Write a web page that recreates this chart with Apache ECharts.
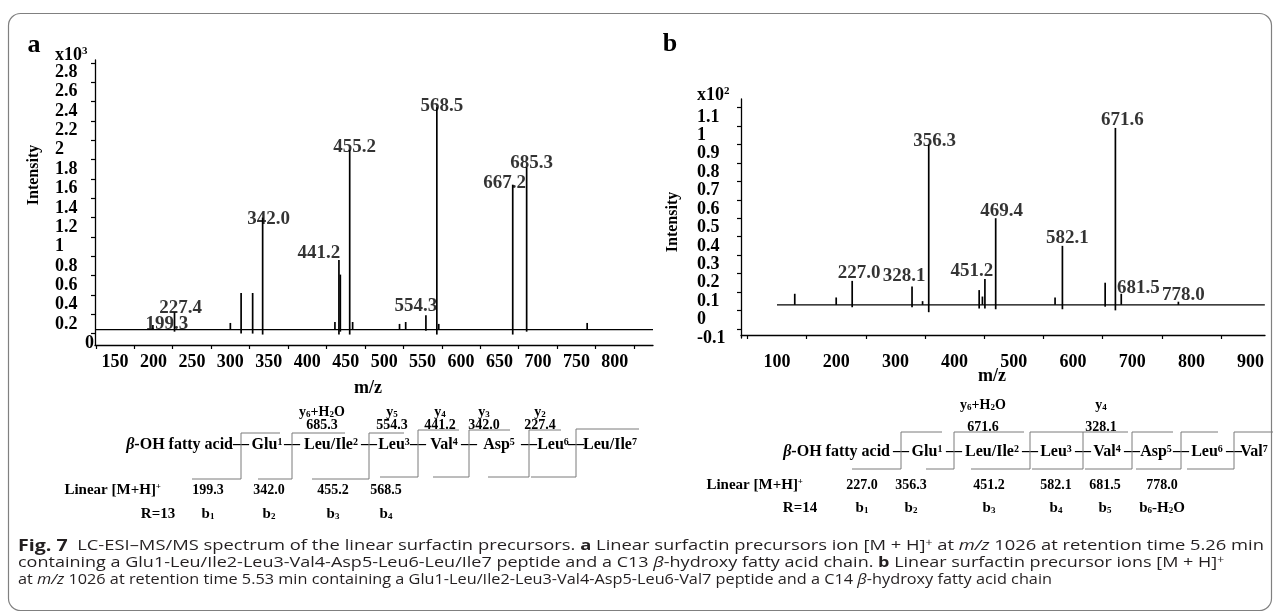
<!DOCTYPE html>
<html><head><meta charset="utf-8">
<script src="https://cdn.jsdelivr.net/npm/echarts@6/dist/echarts.min.js"></script>
<style>html,body{margin:0;padding:0;background:#fff}#c{width:1279px;height:615px}</style>
</head><body><div id="c"></div>
<script>
// ---------------- Panel a data (intensity in x10^3) ----------------
const aPeakMz   = [199.3, 227.4, 300, 314, 329, 342.0, 436, 441.2, 443, 455.2, 459, 520, 528, 554.3, 568.5, 571, 667.2, 685.3, 764];
const aPeakInt  = [0.19, 0.32, 0.21, 0.52, 0.52, 1.30, 0.22, 0.86, 0.71, 2.00, 0.22, 0.20, 0.22, 0.29, 2.44, 0.20, 1.64, 1.82, 0.21];
const aPeakFoot = [0.14, 0.12, 0.14, 0.10, 0.10, 0.09, 0.14, 0.09, 0.12, 0.09, 0.14, 0.14, 0.14, 0.13, 0.09, 0.14, 0.09, 0.12, 0.14];
const aLabelMz  = [199.3, 227.4, 342.0, 441.2, 455.2, 554.3, 568.5, 667.2, 685.3];
const aBaseline = [[124, 0.14], [849.6, 0.14]];
const aXLabels  = [150, 200, 250, 300, 350, 400, 450, 500, 550, 600, 650, 700, 750, 800];
const aXTicks   = [125, 175, 225, 275, 325, 375, 425, 475, 525, 575, 625, 675, 725, 775, 825];
const aYLabels  = [0, 0.2, 0.4, 0.6, 0.8, 1, 1.2, 1.4, 1.6, 1.8, 2, 2.2, 2.4, 2.6, 2.8];
const aYTicks   = [0.1, 0.3, 0.5, 0.7, 0.9, 1.1, 1.3, 1.5, 1.7, 1.9, 2.1, 2.3, 2.5, 2.7, 2.9];

// ---------------- Panel b data (intensity in x10^2) ----------------
const bPeakMz   = [130, 200, 227.0, 328.1, 345.9, 356.3, 441.5, 447, 451.2, 469.4, 569.7, 582.1, 654.3, 671.6, 681.5, 778.0];
const bPeakInt  = [0.14, 0.12, 0.21, 0.18, 0.10, 0.95, 0.16, 0.125, 0.22, 0.55, 0.12, 0.40, 0.20, 1.04, 0.14, 0.097];
const bPeakFoot = [0.08, 0.08, 0.067, 0.067, 0.08, 0.04, 0.06, 0.08, 0.06, 0.056, 0.08, 0.056, 0.07, 0.05, 0.08, 0.08];
const bLabelMz  = [227.0, 328.1, 356.3, 451.2, 469.4, 582.1, 671.6, 681.5, 778.0];
const bBaseline = [[100, 0.08], [924, 0.08]];
const bXLabels  = [100, 200, 300, 400, 500, 600, 700, 800, 900];
const bXTicks   = [50, 150, 250, 350, 450, 550, 650, 750, 850];
const bYLabels  = [-0.1, 0, 0.1, 0.2, 0.3, 0.4, 0.5, 0.6, 0.7, 0.8, 0.9, 1, 1.1];
const bYTicks   = [-0.05, 0.05, 0.15, 0.25, 0.35, 0.45, 0.55, 0.65, 0.75, 0.85, 0.95, 1.05, 1.15];

// ---------------- Fragmentation schemes (text) ----------------
const aIonNames = ['y{d|6}+H{d|2}O', 'y{d|5}', 'y{d|4}', 'y{d|3}', 'y{d|2}'];
const aIonVals  = ['685.3', '554.3', '441.2', '342.0', '227.4'];
const aResidues = ['Glu{s|1}', 'Leu/Ile{s|2}', 'Leu{s|3}', 'Val{s|4}', 'Asp{s|5}', 'Leu{s|6}', 'Leu/Ile{s|7}'];
const aBVals    = ['199.3', '342.0', '455.2', '568.5'];
const aBNames   = ['b{d|1}', 'b{d|2}', 'b{d|3}', 'b{d|4}'];

const bIonNames = ['y{d|6}+H{d|2}O', 'y{d|4}'];
const bIonVals  = ['671.6', '328.1'];
const bResidues = ['Glu{s|1}', 'Leu/Ile{s|2}', 'Leu{s|3}', 'Val{s|4}', 'Asp{s|5}', 'Leu{s|6}', 'Val{s|7}'];
const bBVals    = ['227.0', '356.3', '451.2', '582.1', '681.5', '778.0'];
const bBNames   = ['b{d|1}', 'b{d|2}', 'b{d|3}', 'b{d|4}', 'b{d|5}', 'b{d|6}-H{d|2}O'];

const capLines = [
  [['f', 'Fig. 7'], ['n', '  LC-ESI\u2013MS/MS spectrum of the linear surfactin precursors. '], ['b', 'a'], ['n', ' Linear surfactin precursors ion [M + H]'], ['p', '+'], ['n', ' at '], ['i', 'm/z'], ['n', ' 1026 at retention time 5.26 min']],
  [['n', 'containing a Glu1-Leu/Ile2-Leu3-Val4-Asp5-Leu6-Leu/Ile7 peptide and a C13 '], ['i', '\u03b2'], ['n', '-hydroxy fatty acid chain. '], ['b', 'b'], ['n', ' Linear surfactin precursor ions [M + H]'], ['p', '+']],
  [['n', 'at '], ['i', 'm/z'], ['n', ' 1026 at retention time 5.53 min containing a Glu1-Leu/Ile2-Leu3-Val4-Asp5-Leu6-Val7 peptide and a C14 '], ['i', '\u03b2'], ['n', '-hydroxy fatty acid chain']]
];

// ---------------- Layout / style ----------------
const SERIF = '"Liberation Serif", "Times New Roman", serif';
const SANS = '"Open Sans", "Noto Sans", sans-serif';
const aLabelOff = {'199.3':[14,-1], '227.4':[6,-4], '342.0':[6,2], '441.2':[-20,-7], '455.2':[5,-3], '554.3':[-10,-9], '568.5':[5,-1], '667.2':[-8,-2], '685.3':[5,-4]};
const bLabelOff = {'227.0':[7,-8], '328.1':[-8,-10], '356.3':[6,-3], '451.2':[-13,-8], '469.4':[6,-7], '582.1':[5,-8], '671.6':[7,-8], '681.5':[17,-6], '778.0':[5,-7]};

const aLay = {ionX:[322,392,440,484,540], ionY:412, ionValY:425, mainY:445, fattyRight:233,
  bondX:[241,292,369,418,469,529,576], resX:[267,331,394,444,499,553,610],
  topY:[433,433,433,430,430,430,429], topEnd:[280,345,404,459,510,561,639],
  botY:[479,479,479,477,477,477,477], botStart:[192,258,312,380,433,488,531],
  linY:490, linRight:161, valX:[208,269,333,386], rY:514, rX:158, rText:'R=13'};
const bLay = {ionX:[983,1101], ionY:405, ionValY:427, mainY:452, fattyRight:890,
  bondX:[901,954,1030,1083,1132,1181,1234], resX:[927,992,1056,1107,1156,1207,1254],
  topY:[432,432,432,432,432,432,432], topEnd:[942,1024,1083,1128,1173,1218,1273],
  botY:[469,469,469,469,469,469,469], botStart:[852,926,971,1032,1085,1136,1187],
  linY:485, linRight:803, valX:[862,911,989,1056,1105,1162], rY:508, rX:800, rText:'R=14'};

function peakData(mz, it, ft) { return mz.map((m, i) => [m, it[i], ft[i]]); }
function labelData(lab, mz, it, off) {
  return lab.map(m => {
    const s = m.toFixed(1); const o = off[s] || [0, -5];
    return {value: [m, it[mz.indexOf(m)]], label: {formatter: s, offset: o}};
  });
}
function stickSeries(xi, yi, data) {
  return {type: 'custom', xAxisIndex: xi, yAxisIndex: yi, data, silent: true, clip: false,
    renderItem: (p, api) => {
      const t = api.coord([api.value(0), api.value(1)]);
      const b = api.coord([api.value(0), api.value(2)]);
      return {type: 'line', shape: {x1: t[0], y1: t[1], x2: b[0], y2: b[1]}, style: {stroke: '#000', lineWidth: 1.7}};
    }};
}
function fmt(v) { const r = Math.round(v * 10) / 10; return r === 0 ? '{z|0}' : String(r); }

const axisFont = {color: '#000', fontFamily: SERIF, fontWeight: 'bold', fontSize: 18};
function xAx(gi, min, max, labels, ticks, margin, offset) {
  return {type: 'value', gridIndex: gi, min, max, offset: offset || 0,
    axisLine: {show: true, onZero: false, lineStyle: {color: '#000', width: 1.3}},
    axisTick: {show: true, customValues: ticks, length: 4, lineStyle: {color: '#000', width: 1.2}},
    axisLabel: Object.assign({customValues: labels, margin, formatter: v => String(v)}, axisFont),
    splitLine: {show: false}};
}
function yAx(gi, min, max, labels, ticks, margin, zpad) {
  return {type: 'value', gridIndex: gi, min, max,
    axisLine: {show: true, onZero: false, lineStyle: {color: '#000', width: 1.3}},
    axisTick: {show: true, customValues: ticks, length: 4, lineStyle: {color: '#000', width: 1.2}},
    axisLabel: Object.assign({customValues: labels, margin, align: 'left', formatter: fmt, rich: {z: {padding: [0, 0, 0, zpad]}}}, axisFont),
    splitLine: {show: false}};
}

function RICH(size) {
  return {
    s: {fontSize: Math.round(size * 0.62), fontFamily: SERIF, fontWeight: 'bold', verticalAlign: 'top', fill: '#000'},
    d: {fontSize: Math.round(size * 0.62), fontFamily: SERIF, fontWeight: 'bold', verticalAlign: 'bottom', fill: '#000'},
    i: {fontSize: size, fontFamily: SERIF, fontWeight: 'bold', fontStyle: 'italic', fill: '#000'}
  };
}
function T(x, y, text, size, align, extra) {
  return Object.assign({type: 'text', x, y, silent: true, style: {text, fontFamily: SERIF, fontWeight: 'bold', fontSize: size, fill: '#000',
    align: align || 'center', textAlign: align || 'center', verticalAlign: 'middle', textVerticalAlign: 'middle', rich: RICH(size)}}, extra || {});
}
function scheme(L, ionNames, ionVals, residues, bVals, bNames) {
  const g = [];
  ionNames.forEach((t, i) => { g.push(T(L.ionX[i], L.ionY, t, 14)); g.push(T(L.ionX[i], L.ionValY, ionVals[i], 14)); });
  g.push(T(L.fattyRight, L.mainY, '{i|\u03b2}-OH fatty acid', 16, 'right'));
  L.bondX.forEach((x, i) => {
    g.push(T(x, L.mainY, '\u2014', 16));
    g.push({type: 'polyline', silent: true, shape: {points: [[L.botStart[i], L.botY[i]], [x, L.botY[i]], [x, L.topY[i]], [L.topEnd[i], L.topY[i]]]},
      style: {stroke: '#7a7a7a', lineWidth: 1, fill: null}});
  });
  residues.forEach((t, i) => g.push(T(L.resX[i], L.mainY, t, 16)));
  g.push(T(L.linRight, L.linY, 'Linear [M+H]{s|+}', 15, 'right'));
  bVals.forEach((t, i) => g.push(T(L.valX[i], L.linY, t, 14)));
  g.push(T(L.rX, L.rY, L.rText, 15));
  bNames.forEach((t, i) => g.push(T(L.valX[i], L.rY, t, 15)));
  return g;
}

// caption with measured horizontal scale per line
const cctx = document.createElement('canvas').getContext('2d');
const capStyle = {
  n: {fontSize: 15, fontWeight: 'normal', fontStyle: 'normal'},
  b: {fontSize: 15, fontWeight: 'bold', fontStyle: 'normal'},
  f: {fontSize: 16, fontWeight: 'bold', fontStyle: 'normal'},
  i: {fontSize: 15, fontWeight: 'normal', fontStyle: 'italic'},
  p: {fontSize: 10, fontWeight: 'normal', fontStyle: 'normal'}
};
function measure(line) {
  return line.reduce((s, [k, t]) => { const st = capStyle[k]; cctx.font = `${st.fontStyle} ${st.fontWeight} ${st.fontSize}px ${SANS}`; return s + cctx.measureText(t).width; }, 0);
}
const capWidth = [1246, 1206, 1034];
const capY = [546, 563, 580];
const capRich = {};
Object.keys(capStyle).forEach(k => { capRich[k] = Object.assign({fontFamily: SANS, fill: '#231f20'}, capStyle[k], k === 'p' ? {verticalAlign: 'top'} : {}); });
const capGraphics = capLines.map((line, li) => ({type: 'text', x: 18, y: capY[li], scaleX: capWidth[li] / measure(line), silent: true,
  style: {text: line.map(([k, t]) => `{${k}|${t}}`).join(''), rich: capRich, align: 'left', textAlign: 'left', verticalAlign: 'middle', textVerticalAlign: 'middle'}}));

const chart = echarts.init(document.getElementById('c'));
chart.setOption({
  animation: false,
  backgroundColor: '#fff',
  grid: [
    {left: 95, top: 60, width: 558, height: 285},
    {left: 741, top: 99, width: 524, height: 239}
  ],
  xAxis: [xAx(0, 124, 849.6, aXLabels, aXTicks, 8), xAx(1, 39.2, 924.3, bXLabels, bXTicks, 18, -3)],
  yAxis: [yAx(0, -0.018, 2.929, aYLabels, aYTicks, 40, 30), yAx(1, -0.1, 1.197, bYLabels, bYTicks, 44, 0)],
  series: [
    {type: 'line', xAxisIndex: 0, yAxisIndex: 0, data: aBaseline, symbol: 'none', silent: true, lineStyle: {color: '#000', width: 1.3}},
    stickSeries(0, 0, peakData(aPeakMz, aPeakInt, aPeakFoot)),
    {type: 'scatter', xAxisIndex: 0, yAxisIndex: 0, symbolSize: 0, silent: true, data: labelData(aLabelMz, aPeakMz, aPeakInt, aLabelOff),
      label: {show: true, position: 'inside', color: '#000', fontFamily: SERIF, fontWeight: 'bold', fontSize: 19}},
    {type: 'line', xAxisIndex: 1, yAxisIndex: 1, data: bBaseline, symbol: 'none', silent: true, lineStyle: {color: '#000', width: 1.3}},
    stickSeries(1, 1, peakData(bPeakMz, bPeakInt, bPeakFoot)),
    {type: 'scatter', xAxisIndex: 1, yAxisIndex: 1, symbolSize: 0, silent: true, data: labelData(bLabelMz, bPeakMz, bPeakInt, bLabelOff),
      label: {show: true, position: 'inside', color: '#000', fontFamily: SERIF, fontWeight: 'bold', fontSize: 19}}
  ],
  graphic: [
    {type: 'rect', silent: true, shape: {x: 8.5, y: 13.5, width: 1263, height: 597, r: 12}, style: {fill: null, stroke: '#808080', lineWidth: 1.2}},
    T(34, 45, 'a', 26),
    T(670, 44, 'b', 26),
    T(55, 55, 'x10{s|3}', 18, 'left'),
    T(697, 95, 'x10{s|2}', 18, 'left'),
    T(34, 175, 'Intensity', 16, 'center', {rotation: Math.PI / 2}),
    T(673, 222, 'Intensity', 16, 'center', {rotation: Math.PI / 2}),
    T(368, 388, 'm/z', 18),
    T(992, 376, 'm/z', 18),
    ...scheme(aLay, aIonNames, aIonVals, aResidues, aBVals, aBNames),
    ...scheme(bLay, bIonNames, bIonVals, bResidues, bBVals, bBNames),
    ...capGraphics
  ]
});
</script>
</body></html>
